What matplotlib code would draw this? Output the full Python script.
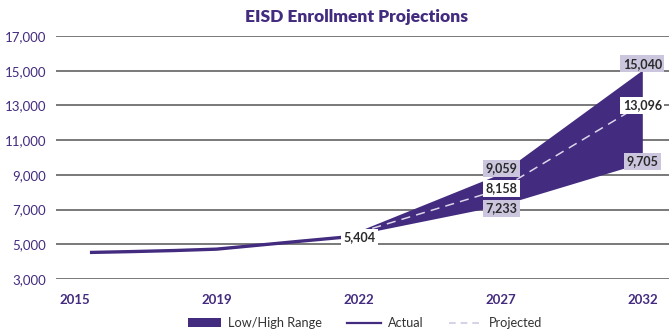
import numpy as np
import matplotlib
matplotlib.use('Agg')
import matplotlib.pyplot as plt
from matplotlib.patches import Patch
from matplotlib.lines import Line2D

plt.rcParams['font.family'] = ['Lato', 'DejaVu Sans']

# Data
tick_labels = ['2015', '2019', '2022', '2027', '2032']
actual_years = [2016, 2017, 2018, 2019, 2020, 2021, 2022]
actual_vals = [4530, 4580, 4640, 4720, 4950, 5180, 5404]
proj_years = [2022, 2027, 2032]
proj_vals = [5404, 8158, 13096]
low_vals = [5404, 7233, 9705]
high_vals = [5404, 9059, 15040]

PURPLE = '#432b7f'
LAVENDER = '#cbc5de'

# axis is categorical-ish: map years onto tick positions
def pos(years):
    return np.interp(years, [2016, 2022, 2027, 2032], [0.105, 1.887, 2.993, 3.995])

fig = plt.figure(figsize=(6.69, 3.33), dpi=100)
ax = fig.add_axes([56 / 669, 54 / 333, 613 / 669, 243 / 333])

ax.set_xlim(-0.134, 4.183)
ax.set_ylim(3000, 17000)
ax.set_yticks(range(3000, 17001, 2000))
ax.set_yticklabels([f'{v:,}' for v in range(3000, 17001, 2000)])
ax.set_xticks(range(len(tick_labels)))
ax.set_xticklabels(tick_labels)

for v in range(3000, 17001, 2000):
    ax.axhline(v, color='#555555', lw=1.1, zorder=1)

for s in ax.spines.values():
    s.set_visible(False)
ax.tick_params(length=0)
ax.tick_params(axis='y', pad=7, labelsize=9.5, labelcolor=PURPLE)
ax.tick_params(axis='x', pad=11, labelsize=9.5, labelcolor=PURPLE)
for t in ax.get_xticklabels():
    t.set_fontweight('bold')

px = pos(proj_years)
ax.fill_between(px, low_vals, high_vals, color=PURPLE, lw=0, zorder=2)
ax.plot(px, proj_vals, color='#dcd6ea', lw=1.1, dashes=(6, 4), zorder=3)
ax.plot(pos(actual_years), actual_vals, color=PURPLE, lw=2.4, zorder=3,
        solid_capstyle='butt')

def label(x, y, text, fc, dx=0, dy=0):
    ax.annotate(text, xy=(x, y), xytext=(dx, dy), textcoords='offset points',
                ha='center', va='center', fontsize=9, fontweight='bold',
                color='#2a2a2a', zorder=5,
                bbox=dict(boxstyle='square,pad=0.2', fc=fc, ec='none'))

label(px[0], proj_vals[0], f'{proj_vals[0]:,}', 'white', dx=12)
label(px[1], high_vals[1], f'{high_vals[1]:,}', LAVENDER, dx=1, dy=4)
label(px[1], proj_vals[1], f'{proj_vals[1]:,}', 'white', dx=1, dy=1)
label(px[1], low_vals[1], f'{low_vals[1]:,}', LAVENDER, dx=1, dy=-2)
label(px[2], high_vals[2], f'{high_vals[2]:,}', LAVENDER, dy=4.5)
label(px[2], proj_vals[2], f'{proj_vals[2]:,}', 'white', dy=-1)
label(px[2], low_vals[2], f'{low_vals[2]:,}', LAVENDER, dy=1)

fig.text(357 / 669, 1 - 17 / 333, 'EISD Enrollment Projections', ha='center',
         va='center', fontsize=12.5, fontweight='heavy', color=PURPLE)

handles = [
    Patch(fc=PURPLE, ec='none', label='Low/High Range'),
    Line2D([], [], color=PURPLE, lw=1.6, label='Actual'),
    Line2D([], [], color='#cfc9e2', lw=1.2, dashes=(4, 3), label='Projected'),
]
leg = fig.legend(handles=handles, loc='center', bbox_to_anchor=(365 / 669, 10 / 333),
                 ncol=3, frameon=False, fontsize=9.2, handlelength=2.6,
                 handleheight=0.7, handletextpad=0.55, columnspacing=2.0,
                 borderpad=0, borderaxespad=0)
for t in leg.get_texts():
    t.set_color('#333333')

fig.savefig('out.png', dpi=100, facecolor='white')
